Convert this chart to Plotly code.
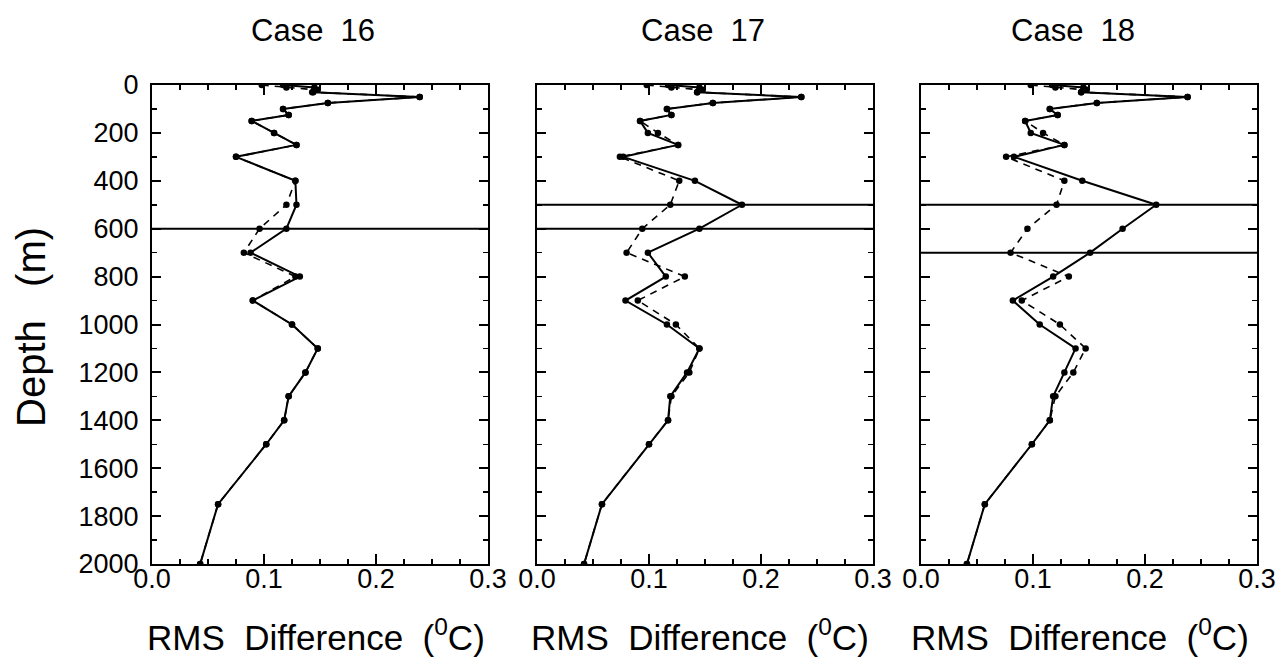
import plotly.graph_objects as go

depths = [0, 10, 20, 30, 50, 75, 100, 125, 150, 200, 250, 300, 400, 500, 600,
          700, 800, 900, 1000, 1100, 1200, 1300, 1400, 1500, 1750, 2000]

case16_solid = [0.117, 0.145, 0.148, 0.144, 0.239, 0.157, 0.117, 0.122, 0.089, 0.109, 0.129, 0.075, 0.128,
                0.129, 0.120, 0.088, 0.132, 0.090, 0.125, 0.148, 0.137, 0.122, 0.118, 0.102, 0.059, 0.043]
case16_dashed = [0.098, 0.120, 0.145, 0.143, 0.239, 0.157, 0.117, 0.122, 0.089, 0.109, 0.129, 0.075, 0.128,
                 0.120, 0.096, 0.082, 0.128, 0.090, 0.125, 0.148, 0.137, 0.122, 0.118, 0.102, 0.059, 0.043]

case17_solid = [0.117, 0.145, 0.148, 0.143, 0.236, 0.157, 0.116, 0.120, 0.092, 0.099, 0.126, 0.077, 0.141,
                0.183, 0.145, 0.099, 0.115, 0.079, 0.116, 0.145, 0.134, 0.119, 0.117, 0.100, 0.058, 0.042]
case17_dashed = [0.098, 0.120, 0.145, 0.143, 0.236, 0.157, 0.116, 0.120, 0.092, 0.108, 0.126, 0.074, 0.127,
                 0.119, 0.094, 0.080, 0.132, 0.090, 0.124, 0.145, 0.136, 0.120, 0.117, 0.100, 0.058, 0.042]

case18_solid = [0.117, 0.145, 0.148, 0.143, 0.238, 0.157, 0.115, 0.122, 0.093, 0.098, 0.128, 0.083, 0.144,
                0.210, 0.180, 0.151, 0.118, 0.082, 0.106, 0.138, 0.128, 0.118, 0.115, 0.099, 0.057, 0.041]
case18_dashed = [0.098, 0.120, 0.145, 0.143, 0.238, 0.157, 0.115, 0.122, 0.093, 0.109, 0.128, 0.076, 0.128,
                 0.121, 0.095, 0.080, 0.132, 0.090, 0.124, 0.147, 0.136, 0.120, 0.115, 0.099, 0.057, 0.041]

case_titles = ["Case  16", "Case  17", "Case  18"]
ref_depths = [[600], [500, 600], [500, 700]]
x_title = "RMS  Difference  (<sup>0</sup>C)"
y_title = "Depth   (m)"
y_ticks = [0, 200, 400, 600, 800, 1000, 1200, 1400, 1600, 1800, 2000]
x_ticks = [0.0, 0.1, 0.2, 0.3]
x_ticklabels = ["0.0", "0.1", "0.2", "0.3"]

series = [(case16_solid, case16_dashed), (case17_solid, case17_dashed), (case18_solid, case18_dashed)]

W, H = 1278, 661
panel_px = [(152, 488), (537, 873), (921, 1257)]
top_px, bot_px = 85, 564
title_cx = [313, 703, 1073]
xtitle_cx = [316, 700, 1080]
FONT = "Liberation Sans, Arial, sans-serif"

fig = go.Figure()
for i, (solid, dashed) in enumerate(series):
    xa = "x" if i == 0 else f"x{i+1}"
    ya = "y" if i == 0 else f"y{i+1}"
    fig.add_trace(go.Scatter(x=dashed, y=depths, xaxis=xa, yaxis=ya, mode="lines+markers",
                             line=dict(color="black", width=1.6, dash="7px,6px"),
                             marker=dict(color="black", size=6.5), showlegend=False, hoverinfo="skip"))
    fig.add_trace(go.Scatter(x=solid, y=depths, xaxis=xa, yaxis=ya, mode="lines+markers",
                             line=dict(color="black", width=2),
                             marker=dict(color="black", size=6.5), showlegend=False, hoverinfo="skip"))
    for d in ref_depths[i]:
        fig.add_shape(type="line", xref=f"{xa} domain", yref=ya, x0=0, x1=1, y0=d, y1=d,
                      line=dict(color="black", width=2))

layout = dict(width=W, height=H, margin=dict(l=0, r=0, t=0, b=0, pad=0),
              plot_bgcolor="white", paper_bgcolor="white",
              font=dict(family=FONT, color="black"))
ydom = [1 - bot_px / H, 1 - top_px / H]
for i in range(3):
    xk = "xaxis" if i == 0 else f"xaxis{i+1}"
    yk = "yaxis" if i == 0 else f"yaxis{i+1}"
    xa_id = "x" if i == 0 else f"x{i+1}"
    x0, x1 = panel_px[i]
    layout[xk] = dict(domain=[x0 / W, x1 / W], range=[0, 0.3], anchor="y" if i == 0 else f"y{i+1}",
                      tickvals=x_ticks, ticktext=x_ticklabels, ticks="inside", ticklen=10, tickwidth=2,
                      tickcolor="black", showline=True, linecolor="black", linewidth=2, mirror="ticks",
                      showgrid=False, zeroline=False, tickfont=dict(size=27, family=FONT),
                      automargin=False, ticklabelstandoff=-10,
                      minor=dict(dtick=0.025, tick0=0, ticks="inside", ticklen=5, tickwidth=1.5,
                                 tickcolor="black", showgrid=False))
    layout[yk] = dict(domain=ydom, range=[2000, 0], anchor=xa_id,
                      tickvals=y_ticks, ticks="inside", ticklen=9, tickwidth=2, tickcolor="black",
                      showline=True, linecolor="black", linewidth=2, mirror="ticks",
                      showgrid=False, zeroline=False, showticklabels=(i == 0),
                      tickfont=dict(size=27, family=FONT), automargin=False, ticklabelstandoff=6,
                      minor=dict(dtick=100, tick0=0, ticks="inside", ticklen=5, tickwidth=1.5,
                                 tickcolor="black", showgrid=False))
fig.update_layout(**layout)

annotations = []
for i in range(3):
    annotations.append(dict(text=case_titles[i], x=title_cx[i] / W, y=1 - 30 / H,
                            xref="paper", yref="paper", showarrow=False,
                            font=dict(size=31, family=FONT), xanchor="center", yanchor="middle"))
    annotations.append(dict(text=x_title, x=xtitle_cx[i] / W, y=1 - 635 / H,
                            xref="paper", yref="paper", showarrow=False,
                            font=dict(size=35, family=FONT), xanchor="center", yanchor="middle"))
annotations.append(dict(text=y_title, x=31 / W, y=1 - 327 / H, xref="paper", yref="paper",
                        textangle=-90, showarrow=False, font=dict(size=40, family=FONT),
                        xanchor="center", yanchor="middle"))
fig.update_layout(annotations=annotations)

fig.write_html("out.html", config={"displayModeBar": False, "staticPlot": True},
               post_script="document.body.style.margin='0';document.body.style.overflow='hidden';")
